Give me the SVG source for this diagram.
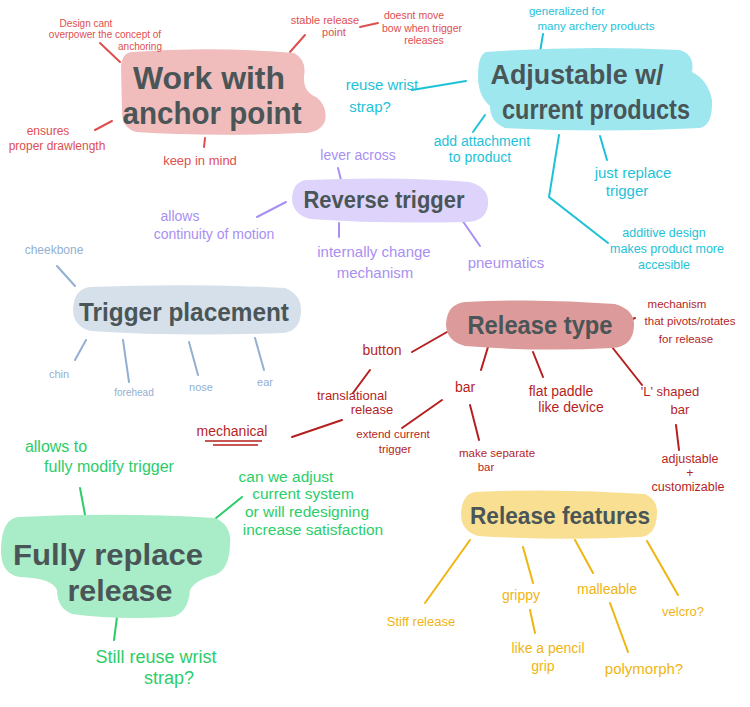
<svg xmlns="http://www.w3.org/2000/svg" width="750" height="707" viewBox="0 0 750 707">
<style>
text{font-family:"Liberation Sans","Open Sans",sans-serif;text-anchor:middle}
.title{font-weight:bold;fill:#4a5557}
.cn line,.cn polyline{stroke-width:2;stroke-linecap:round;fill:none}
.red{fill:#de4f4f}.sred{stroke:#de4f4f}
.cy{fill:#1ec2d8}.scy{stroke:#1ec2d8}
.lav{fill:#a98ff2}.slav{stroke:#a98ff2}
.bg{fill:#93afd1}.sbg{stroke:#93afd1}
.dr{fill:#b51f1f}.sdr{stroke:#b51f1f}
.gr{fill:#2ccd68}.sgr{stroke:#2ccd68}
.ye{fill:#efb512}.sye{stroke:#efb512}
</style>
<rect width="750" height="707" fill="#ffffff"/>

<g id="connectors" class="cn">
  <line class="sred" x1="100" y1="43" x2="120" y2="62"/>
  <line class="sred" x1="290" y1="52" x2="305" y2="35"/>
  <line class="sred" x1="360" y1="27" x2="378" y2="23"/>
  <line class="sred" x1="95" y1="130" x2="112" y2="121"/>
  <line class="sred" x1="205" y1="138" x2="204" y2="147"/>
  <line class="scy" x1="543" y1="34" x2="540" y2="52"/>
  <line class="scy" x1="412" y1="90" x2="466" y2="81"/>
  <line class="scy" x1="485" y1="115" x2="473" y2="132"/>
  <line class="scy" x1="600" y1="136" x2="607" y2="160"/>
  <polyline class="scy" points="559,135 549,197 608,243"/>
  <line class="slav" x1="338" y1="168" x2="341" y2="180"/>
  <line class="slav" x1="257" y1="217" x2="286" y2="202"/>
  <line class="slav" x1="339" y1="223" x2="339" y2="237"/>
  <line class="slav" x1="462" y1="220" x2="480" y2="246"/>
  <line class="sbg" x1="57" y1="266" x2="75" y2="286"/>
  <line class="sbg" x1="86" y1="340" x2="75" y2="360"/>
  <line class="sbg" x1="123" y1="340" x2="129" y2="382"/>
  <line class="sbg" x1="189" y1="342" x2="198" y2="375"/>
  <line class="sbg" x1="255" y1="338" x2="264" y2="370"/>
  <line class="sdr" x1="623" y1="323" x2="635" y2="318"/>
  <line class="sdr" x1="412" y1="352" x2="447" y2="332"/>
  <line class="sdr" x1="370" y1="370" x2="353" y2="393"/>
  <line class="sdr" x1="342" y1="420" x2="292" y2="437"/>
  <line class="sdr" x1="488" y1="347" x2="481" y2="370"/>
  <line class="sdr" x1="442" y1="400" x2="402" y2="428"/>
  <line class="sdr" x1="470" y1="405" x2="479" y2="440"/>
  <line class="sdr" x1="533" y1="352" x2="543" y2="377"/>
  <line class="sdr" x1="612" y1="347" x2="642" y2="385"/>
  <line class="sdr" x1="676" y1="425" x2="679" y2="450"/>
  <line class="sgr" x1="80" y1="488" x2="86" y2="520"/>
  <line class="sgr" x1="210" y1="523" x2="242" y2="497"/>
  <line class="sgr" x1="117" y1="617" x2="114" y2="640"/>
  <line class="sye" x1="470" y1="540" x2="425" y2="603"/>
  <line class="sye" x1="523" y1="547" x2="533" y2="583"/>
  <line class="sye" x1="530" y1="610" x2="535" y2="633"/>
  <line class="sye" x1="575" y1="540" x2="593" y2="573"/>
  <line class="sye" x1="610" y1="603" x2="628" y2="652"/>
  <line class="sye" x1="647" y1="541" x2="678" y2="595"/>
</g>

<g id="work-with-anchor-point">
  <path fill="#f0bcbc" d="M132,52 Q210,46 294,53 Q307,60 304,76 Q303,92 316,97 Q328,106 325,121 Q320,134 300,133 Q210,137 136,132 Q122,128 122,112 L121,66 Q122,53 132,52 Z"/>
  <text class="title" x="209" y="89" font-size="31" textLength="152" lengthAdjust="spacingAndGlyphs">Work with</text>
  <text class="title" x="212" y="124" font-size="31" textLength="179" lengthAdjust="spacingAndGlyphs">anchor point</text>
</g>
<g id="design-cant" class="red" font-size="10">
  <text x="86" y="27">Design cant</text>
  <text x="105" y="38">overpower the concept of</text>
  <text x="140" y="50">anchoring</text>
</g>
<g id="stable-release-point" class="red" font-size="11">
  <text x="325" y="24">stable release</text>
  <text x="334" y="36">point</text>
</g>
<g id="doesnt-move-bow" class="red" font-size="10.5">
  <text x="414" y="19">doesnt move</text>
  <text x="422" y="32">bow when trigger</text>
  <text x="424" y="44">releases</text>
</g>
<g id="ensures-drawlength" class="red" font-size="12">
  <text x="48" y="135">ensures</text>
  <text x="57" y="150">proper drawlength</text>
</g>
<g id="keep-in-mind" class="red" font-size="13">
  <text x="200" y="165">keep in mind</text>
</g>

<g id="adjustable-current-products">
  <path fill="#9ee7ef" d="M486,52 Q580,45 680,50 Q695,55 692,72 Q708,80 712,100 Q713,125 700,128 Q600,133 505,128 Q490,122 490,106 Q478,96 478,76 Q478,55 486,52 Z"/>
  <text class="title" x="577" y="84" font-size="28" textLength="173" lengthAdjust="spacingAndGlyphs">Adjustable w/</text>
  <text class="title" x="596" y="119" font-size="28" textLength="188" lengthAdjust="spacingAndGlyphs">current products</text>
</g>
<g id="generalized" class="cy" font-size="11.5">
  <text x="567" y="15">generalized for</text>
  <text x="596" y="30">many archery products</text>
</g>
<g id="reuse-wrist-strap" class="cy" font-size="15">
  <text x="382" y="90">reuse wrist</text>
  <text x="370" y="112">strap?</text>
</g>
<g id="add-attachment" class="cy" font-size="14">
  <text x="482" y="146">add attachment</text>
  <text x="480" y="162">to product</text>
</g>
<g id="just-replace-trigger" class="cy" font-size="15">
  <text x="633" y="178">just replace</text>
  <text x="627" y="196">trigger</text>
</g>
<g id="additive-design" class="cy" font-size="12.5">
  <text x="664" y="237">additive design</text>
  <text x="667" y="253">makes product more</text>
  <text x="664" y="269">accesible</text>
</g>

<g id="reverse-trigger">
  <path fill="#ddd3fb" d="M306,180 Q400,176 470,182 Q490,188 488,205 Q486,222 465,222 Q380,224 310,219 Q292,214 292,198 Q293,182 306,180 Z"/>
  <text class="title" x="384" y="208" font-size="24" textLength="161" lengthAdjust="spacingAndGlyphs">Reverse trigger</text>
</g>
<g id="lever-across" class="lav" font-size="14">
  <text x="358" y="160">lever across</text>
</g>
<g id="continuity-of-motion" class="lav" font-size="14">
  <text x="180" y="221">allows</text>
  <text x="214" y="239">continuity of motion</text>
</g>
<g id="internally-change" class="lav" font-size="15">
  <text x="374" y="257">internally change</text>
  <text x="375" y="278">mechanism</text>
</g>
<g id="pneumatics" class="lav" font-size="15">
  <text x="506" y="268">pneumatics</text>
</g>

<g id="trigger-placement">
  <path fill="#d5e0eb" d="M90,287 Q190,283 285,288 Q302,295 301,312 Q300,332 282,333 Q180,337 90,331 Q73,326 73,309 Q74,289 90,287 Z"/>
  <text class="title" x="184" y="321" font-size="26" textLength="210" lengthAdjust="spacingAndGlyphs">Trigger placement</text>
</g>
<g id="cheekbone" class="bg" font-size="12"><text x="54" y="254">cheekbone</text></g>
<g id="chin" class="bg" font-size="11"><text x="59" y="378">chin</text></g>
<g id="forehead" class="bg" font-size="10"><text x="134" y="396">forehead</text></g>
<g id="nose" class="bg" font-size="11"><text x="201" y="391">nose</text></g>
<g id="ear" class="bg" font-size="11"><text x="265" y="386">ear</text></g>

<g id="release-type">
  <path fill="#dd9a9a" d="M465,302 Q540,298 615,304 Q635,310 634,326 Q633,347 612,348 Q540,352 465,346 Q446,341 446,324 Q447,304 465,302 Z"/>
  <text class="title" x="540" y="334" font-size="26" textLength="145" lengthAdjust="spacingAndGlyphs">Release type</text>
</g>
<g id="pivots-rotates" class="dr" font-size="11.5">
  <text x="677" y="308">mechanism</text>
  <text x="690" y="325">that pivots/rotates</text>
  <text x="686" y="343">for release</text>
</g>
<g id="button" class="dr" font-size="14"><text x="382" y="355">button</text></g>
<g id="translational-release" class="dr" font-size="13">
  <text x="352" y="400">translational</text>
  <text x="372" y="414">release</text>
</g>
<g id="mechanical" class="dr" font-size="14">
  <text x="232" y="436">mechanical</text>
  <line x1="205" y1="441" x2="262" y2="441" stroke="#b51f1f" stroke-width="1.5"/>
  <line x1="213" y1="445" x2="258" y2="445" stroke="#b51f1f" stroke-width="1.5"/>
</g>
<g id="bar" class="dr" font-size="14"><text x="465" y="392">bar</text></g>
<g id="extend-current-trigger" class="dr" font-size="11.5">
  <text x="393" y="438">extend current</text>
  <text x="395" y="453">trigger</text>
</g>
<g id="make-separate-bar" class="dr" font-size="11.5">
  <text x="497" y="457">make separate</text>
  <text x="486" y="471">bar</text>
</g>
<g id="flat-paddle" class="dr" font-size="14">
  <text x="561" y="396">flat paddle</text>
  <text x="571" y="412">like device</text>
</g>
<g id="l-shaped-bar" class="dr" font-size="13">
  <text x="670" y="396">'L' shaped</text>
  <text x="680" y="414">bar</text>
</g>
<g id="adjustable-customizable" class="dr" font-size="12.5">
  <text x="690" y="463">adjustable</text>
  <text x="690" y="477">+</text>
  <text x="688" y="491">customizable</text>
</g>

<g id="fully-replace-release">
  <path fill="#a8edc7" d="M18,517 Q120,512 215,518 Q232,525 230,545 Q229,570 215,575 Q195,580 190,590 Q188,615 170,617 Q115,620 72,614 Q57,608 57,590 Q52,578 20,577 Q0,574 1,548 Q2,519 18,517 Z"/>
  <text class="title" x="108" y="565" font-size="30" textLength="190" lengthAdjust="spacingAndGlyphs">Fully replace</text>
  <text class="title" x="120" y="601" font-size="30" textLength="105" lengthAdjust="spacingAndGlyphs">release</text>
</g>
<g id="allows-modify" class="gr" font-size="16">
  <text x="56" y="452">allows to</text>
  <text x="109" y="472">fully modify trigger</text>
</g>
<g id="can-we-adjust" class="gr" font-size="15.5">
  <text x="286" y="482">can we adjust</text>
  <text x="303" y="499">current system</text>
  <text x="307" y="517">or will redesigning</text>
  <text x="313" y="535">increase satisfaction</text>
</g>
<g id="still-reuse" class="gr" font-size="18">
  <text x="156" y="663">Still reuse wrist</text>
  <text x="169" y="684">strap?</text>
</g>

<g id="release-features">
  <path fill="#f8df92" d="M475,492 Q560,488 645,494 Q658,500 657,514 Q656,536 640,537 Q560,541 478,536 Q461,531 461,514 Q462,494 475,492 Z"/>
  <text class="title" x="560" y="524" font-size="24" textLength="180" lengthAdjust="spacingAndGlyphs">Release features</text>
</g>
<g id="stiff-release" class="ye" font-size="13"><text x="421" y="626">Stiff release</text></g>
<g id="grippy" class="ye" font-size="14"><text x="521" y="600">grippy</text></g>
<g id="pencil-grip" class="ye" font-size="14">
  <text x="548" y="653">like a pencil</text>
  <text x="543" y="671">grip</text>
</g>
<g id="malleable" class="ye" font-size="14"><text x="607" y="594">malleable</text></g>
<g id="polymorph" class="ye" font-size="15"><text x="644" y="674">polymorph?</text></g>
<g id="velcro" class="ye" font-size="13"><text x="683" y="616">velcro?</text></g>
</svg>
